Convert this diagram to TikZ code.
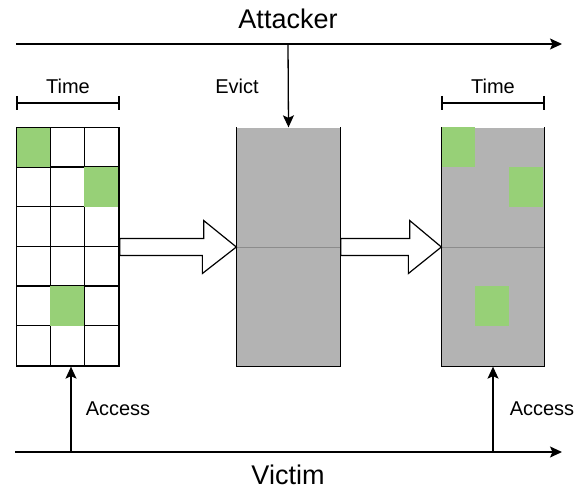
\documentclass[tikz,border=0pt]{standalone}
\usepackage{fontspec}
\setmainfont{Liberation Sans}
\usetikzlibrary{arrows.meta,calc}
\definecolor{cellgreen}{HTML}{97D077}
\definecolor{blockgray}{HTML}{B3B3B3}

\begin{document}
\begin{tikzpicture}[x=1pt,y=-1pt,line width=1.3pt,
        >={Stealth[length=12pt,width=11pt,inset=2.5pt]},
        lbl/.style={font=\fontsize{20}{24}\selectfont},
        biglbl/.style={font=\fontsize{27}{32}\selectfont},
        block/.style={fill=blockgray,minimum width=102pt,minimum height=238pt,inner sep=0pt},
        bigarrow/.style={draw,fill=white,line width=1.2pt,line join=miter}]
\useasboundingbox (0,0) rectangle (585,494);

\coordinate (attS) at (16,44);
        \coordinate (attE) at (562,44);
        \coordinate (vicS) at (15,452);
        \coordinate (vicE) at (562,452);
        \coordinate (evS) at (288,44);
        \coordinate (acc1) at (71,452);
        \coordinate (acc2) at (493,452);

\node[minimum width=102pt,minimum height=238pt,inner sep=0pt] (prime) at (68,247) {};
\node[block,minimum width=103pt] (evict) at (288.5,247) {};
\node[block] (probe) at (493,247) {};

% prime grid
\foreach \c in {0,1,2}
    \foreach \r in {0,...,5}
        \draw ($(prime.north west)+(34*\c,39.67*\r)$) rectangle +(34,39.67);
\fill[cellgreen] (prime.north west) rectangle +(34,39.67);
\fill[cellgreen] ($(prime.north west)+(68,39.67)$) rectangle +(34,39.67);
\fill[cellgreen] ($(prime.north west)+(34,158.67)$) rectangle +(34,39.67);
\draw (prime.north west) rectangle (prime.south east);

% cache blocks
\draw[black!45,line width=0.6pt] (evict.west) -- (evict.east);
\draw (evict.north west) -- (evict.south west) -- (evict.south east) -- (evict.north east);
\fill[cellgreen] (probe.north west) rectangle +(34,39.67);
\fill[cellgreen] ($(probe.north west)+(68,39.67)$) rectangle +(34,39.67);
\fill[cellgreen] ($(probe.north west)+(34,158.67)$) rectangle +(34,39.67);
\draw[black!45,line width=0.6pt] (probe.west) -- (probe.east);
\draw (probe.north west) -- (probe.south west) -- (probe.south east) -- (probe.north east);

% hollow arrows
\draw[bigarrow] ($(prime.east)+(0,-8.5)$) -- ++(84,0) -- ++(0,-18) -- (evict.west)
        -- ++(-34,26.5) -- ++(0,-18) -- ($(prime.east)+(0,8.5)$) -- cycle;
\draw[bigarrow] ($(evict.east)+(0,-8.5)$) -- ++(69,0) -- ++(0,-18) -- (probe.west)
        -- ++(-33,26.5) -- ++(0,-18) -- ($(evict.east)+(0,8.5)$) -- cycle;

% time brackets
\draw (17,96) -- (17,110) (17,103) -- (119,103) (119,96) -- (119,110);
\draw (442,96) -- (442,110) (442,103) -- (544,103) (544,96) -- (544,110);
\node[lbl] (time1) at (68,86) {Time};
\node[lbl] (time2) at (493,86) {Time};

% attacker and victim
\draw[->] (attS) -- (attE);
\draw[->] (vicS) -- (vicE);
\node[biglbl] (attacker) at (288,19) {Attacker};
\node[biglbl] (victim) at (288,475) {Victim};
\draw[->] (evS) -- (evict.north);
\node[lbl] (evlbl) at (237,86) {Evict};
\draw[->] (acc1) -- (acc1 |- prime.south);
\draw[->] (acc2) -- (probe.south);
\node[lbl] (access1) at (118,409) {Access};
\node[lbl] (access2) at (542,409) {Access};
\end{tikzpicture}
\end{document}
